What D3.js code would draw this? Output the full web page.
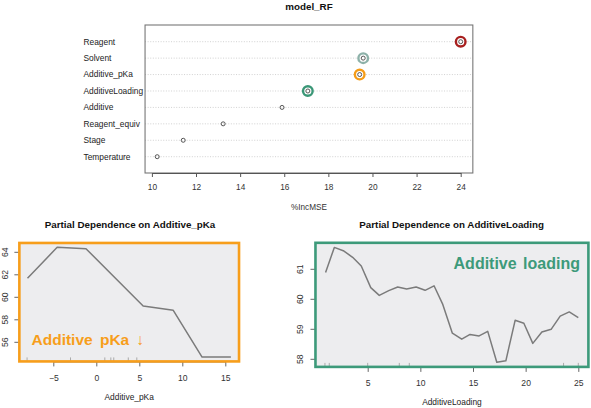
<!DOCTYPE html>
<html><head><meta charset="utf-8">
<script src="https://cdn.jsdelivr.net/npm/d3@7"></script>
<style>
body{margin:0;background:#fff}
svg{display:block}
text{font-family:"Liberation Sans",Arial,Helvetica,sans-serif}
</style>
</head><body>
<svg id="c" width="591" height="408"></svg>
<script>
// ---------- data ----------
const varNames = ["Reagent","Solvent","Additive_pKa","AdditiveLoading","Additive","Reagent_equiv","Stage","Temperature"];
const incMSE   = [24.0, 19.58, 19.42, 17.07, 15.9, 13.23, 11.42, 10.24];
const topTicks = [10,12,14,16,18,20,22,24];

const pkaX = [-8.0, -4.55, -1.2, 5.45, 8.95, 12.3, 15.65];
const pkaY = [61.7, 64.44, 64.32, 59.23, 58.84, 54.69, 54.69];
const pkaRug = [-8.05, -3.0, 0.99, 1.69, 2.03, 3.72, 4.71];
const pkaXTicks = [-5,0,5,10,15];
const pkaYTicks = [56,58,60,62,64];

const loadX = [1.0,1.83,2.68,3.57,4.39,5.29,6.1,7.0,7.85,8.7,9.6,10.45,11.3,12.13,13.04,13.93,14.72,15.58,16.4,17.26,18.12,19.0,19.83,20.68,21.54,22.42,23.28,24.14,25.0];
const loadY = [60.89,61.73,61.62,61.4,61.11,60.39,60.13,60.29,60.41,60.34,60.41,60.3,60.45,59.83,58.87,58.67,58.83,58.78,58.93,57.9,57.95,59.3,59.2,58.53,58.91,59.0,59.44,59.58,59.39];
const loadRug = [0.94, 1.35, 5.0, 8.0, 8.95, 23.6, 25.0];
const loadXTicks = [5,10,15,20,25];
const loadYTicks = [58,59,60,61];

// ---------- styles ----------
const ringColor = {"Reagent":"#a8201f","Solvent":"#8db1a9","Additive_pKa":"#f59c17","AdditiveLoading":"#3b9777"};
const FONT_TICK = 8.3;
const svg = d3.select("#c");

function pad(ext){ const r = ext[1]-ext[0]; return [ext[0]-0.04*r, ext[1]+0.04*r]; }

// ---------- top dot chart ----------
{
  const x = d3.scaleLinear().domain([10,24]).range([151.9,460.7]);
  const y = d3.scalePoint().domain(varNames).range([41.7,156.7]);
  const xe = pad(d3.extent(incMSE));
  const L = x(xe[0]), R = x(xe[1]), T = 25, B = 173;
  const g = svg.append("g");

  g.append("text").attr("x",(L+R)/2).attr("y",10).attr("text-anchor","middle")
    .attr("font-weight","bold").attr("font-size",9.8).attr("fill","#111").text("model_RF");

  g.selectAll("line.grid").data(varNames).join("line").attr("class","grid")
    .attr("x1",L).attr("x2",R).attr("y1",d=>y(d)).attr("y2",d=>y(d))
    .attr("stroke","#cccccc").attr("stroke-width",0.9).attr("stroke-dasharray","1,1.6");

  g.append("rect").attr("x",L).attr("y",T).attr("width",R-L).attr("height",B-T)
    .attr("fill","none").attr("stroke","#777").attr("stroke-width",1.1);

  g.selectAll("text.lab").data(varNames).join("text").attr("class","lab")
    .attr("x",83.5).attr("y",d=>y(d)).attr("dy","0.35em").attr("font-size",8.4)
    .attr("fill","#222").text(d=>d);

  const pts = varNames.map((n,i)=>({n, v:incMSE[i]}));
  g.selectAll("circle.ring").data(pts.filter(p=>ringColor[p.n])).join("circle").attr("class","ring")
    .attr("cx",d=>x(d.v)).attr("cy",d=>y(d.n)).attr("r",4.8)
    .attr("fill","#fff").attr("stroke",d=>ringColor[d.n]).attr("stroke-width",2.4);
  g.selectAll("circle.pt").data(pts).join("circle").attr("class","pt")
    .attr("cx",d=>x(d.v)).attr("cy",d=>y(d.n)).attr("r",2)
    .attr("fill","none").attr("stroke","#444").attr("stroke-width",0.9);

  const ax = g.append("g").attr("transform",`translate(0,${B})`)
    .call(d3.axisBottom(x).tickValues(topTicks).tickSize(4).tickSizeOuter(0).tickPadding(7.5));
  ax.select(".domain").attr("stroke","#555");
  ax.selectAll(".tick line").attr("stroke","#555");
  ax.selectAll("text").attr("font-size",FONT_TICK).attr("fill","#333").attr("font-family",null);

  g.append("text").attr("x",(L+R)/2).attr("y",210).attr("text-anchor","middle")
    .attr("font-size",8.2).attr("fill","#333").text("%IncMSE");
}

// ---------- partial dependence panel ----------
function panel(opt){
  const x = d3.scaleLinear().domain(opt.xd).range(opt.xr);
  const y = d3.scaleLinear().domain(opt.yd).range(opt.yr);
  const xe = pad(d3.extent(opt.xs)), ye = pad(d3.extent(opt.ys));
  const L = x(xe[0]), R = x(xe[1]), T = y(ye[1]), B = y(ye[0]);
  const g = svg.append("g");

  g.append("text").attr("x",opt.titleX).attr("y",227.5).attr("text-anchor","middle")
    .attr("font-weight","bold").attr("font-size",9.8).attr("fill","#111").text(opt.title);

  g.append("rect").attr("x",L).attr("y",T).attr("width",R-L).attr("height",B-T).attr("fill","#ededef");

  // rug
  g.selectAll("line.rug").data(opt.rug).join("line").attr("class","rug")
    .attr("x1",d=>x(d)).attr("x2",d=>x(d)).attr("y1",B).attr("y2",B-4)
    .attr("stroke","#999").attr("stroke-width",0.8);

  const line = d3.line().x(d=>x(d[0])).y(d=>y(d[1]));
  g.append("path").datum(opt.xs.map((v,i)=>[v,opt.ys[i]])).attr("d",line)
    .attr("fill","none").attr("stroke","#7b7b7b").attr("stroke-width",1.5).attr("stroke-linejoin","round");

  // x axis
  const ax = g.append("g").attr("transform",`translate(0,${B})`)
    .call(d3.axisBottom(x).tickValues(opt.xt).tickSize(5).tickSizeOuter(0).tickPadding(8.5));
  ax.select(".domain").attr("stroke","#666");
  ax.selectAll(".tick line").attr("stroke","#666");
  ax.selectAll("text").attr("font-size",8.6).attr("fill","#333").attr("font-family",null);

  // y axis (labels parallel to axis)
  const yt = g.selectAll("g.yt").data(opt.yt).join("g").attr("class","yt")
    .attr("transform",d=>`translate(${L},${y(d)})`);
  yt.append("line").attr("x1",0).attr("x2",-5).attr("stroke","#666");
  yt.append("text").attr("transform",`translate(${-opt.ylabOff},0) rotate(-90)`)
    .attr("text-anchor","middle").attr("dy","0.35em").attr("font-size",8.6).attr("fill","#333").text(d=>d);

  g.append("rect").attr("x",L).attr("y",T).attr("width",R-L).attr("height",B-T)
    .attr("fill","none").attr("stroke",opt.color).attr("stroke-width",2.6);

  g.append("text").attr("x",(L+R)/2).attr("y",B+38.5).attr("text-anchor","middle")
    .attr("font-size",8.4).attr("fill","#222").text(opt.xlabel);

  const ann = g.append("text").attr("x",opt.annX).attr("y",opt.annY).attr("text-anchor",opt.annAnchor)
    .attr("font-weight","bold").attr("font-size",opt.annSize).attr("fill",opt.color)
    .attr("word-spacing",opt.annWS).text(opt.ann);
}

panel({
  xs:pkaX, ys:pkaY, rug:pkaRug, xt:pkaXTicks, yt:pkaYTicks,
  xd:[-5,15], xr:[53.3,225.3], yd:[56,64], yr:[342.3,252.3],
  title:"Partial Dependence on Additive_pKa", titleX:130, xlabel:"Additive_pKa",
  color:"#f79e1b", ylabOff:14.3,
  ann:"Additive pKa \u2193", annX:31.5, annY:345, annAnchor:"start", annSize:15.5, annWS:3
});

panel({
  xs:loadX, ys:loadY, rug:loadRug, xt:loadXTicks, yt:loadYTicks,
  xd:[5,25], xr:[367.7,578.3], yd:[58,61], yr:[359.3,269.3],
  title:"Partial Dependence on AdditiveLoading", titleX:451.7, xlabel:"AdditiveLoading",
  color:"#3d9a7a", ylabOff:15.6,
  ann:"Additive loading", annX:580, annY:269.3, annAnchor:"end", annSize:16, annWS:2
});
</script>
</body></html>
